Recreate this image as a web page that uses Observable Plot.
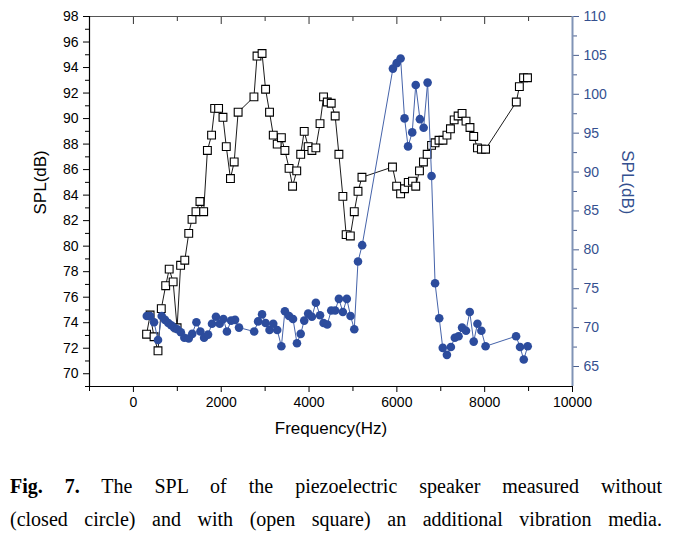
<!DOCTYPE html>
<html><head><meta charset="utf-8">
<script src="https://cdn.jsdelivr.net/npm/d3@7"></script>
<script src="https://cdn.jsdelivr.net/npm/@observablehq/plot@0.6"></script>
<style>
body{margin:0;background:#fff;}
#chart svg{display:block;}
#cap{font-family:"Liberation Serif","Times New Roman",serif;font-size:20px;color:#000;margin:0 16px 0 10px;padding-top:20px;line-height:33px;}
#cap div{text-align:justify;text-align-last:justify;}
</style></head><body>
<div id="chart"></div>
<div id="cap"><div><b>Fig. 7.</b> The SPL of the piezoelectric speaker measured without</div><div>(closed circle) and with (open square) an additional vibration media.</div></div>
<script>
// open squares (with vibration media) — left axis SPL(dB)
const sqFreq = [300,380,470,560,635,735,815,905,995,1075,1170,1260,1335,1425,1515,1600,1685,1780,1850,1940,2040,2115,2210,2295,2385,2745,2815,2930,3010,3100,3185,3275,3370,3450,3545,3625,3720,3810,3890,3980,4065,4155,4250,4330,4415,4505,4595,4680,4770,4845,4940,5030,5115,5205,5900,5995,6085,6175,6260,6355,6430,6515,6605,6690,6790,6870,6960,7050,7140,7220,7305,7395,7485,7575,7665,7750,7835,7925,8020,8720,8790,8885,8975];
const sqSPL = [73.1,74.6,72.9,71.8,75.1,76.9,78.2,77.2,73.6,78.5,78.9,81.0,82.1,82.7,83.5,82.7,87.5,88.7,90.8,90.8,90.1,87.8,85.3,86.6,90.5,91.7,94.9,95.1,92.3,90.5,88.7,88.0,88.5,87.5,86.1,84.7,85.9,87.2,89.0,87.8,87.5,87.7,89.6,91.7,91.3,91.2,90.2,87.2,83.9,80.9,80.8,82.7,84.3,85.4,86.2,84.7,84.1,84.5,85.0,85.1,84.7,85.9,86.6,87.2,87.9,88.1,88.3,88.3,88.7,89.2,89.9,90.2,90.4,89.8,89.3,88.6,87.7,87.6,87.6,91.3,92.5,93.2,93.2];
// closed circles (without media) — right axis SPL(dB)
const ciFreq = [305,380,470,560,645,720,795,860,925,1000,1080,1160,1260,1340,1435,1525,1610,1700,1790,1880,1965,2050,2130,2225,2315,2405,2750,2840,2930,3010,3100,3185,3275,3370,3450,3545,3635,3725,3810,3890,3980,4065,4155,4250,4330,4415,4505,4595,4680,4770,4860,4945,5030,5115,5210,5910,5995,6085,6175,6255,6350,6430,6525,6610,6700,6790,6870,6965,7045,7140,7230,7320,7405,7485,7575,7660,7750,7835,7925,8020,8715,8805,8890,8980];
const ciSPL = [71.5,71.5,70.7,68.4,71.5,71.0,70.6,70.3,70.0,69.8,69.4,68.7,68.6,69.2,70.7,69.5,68.7,69.1,70.5,71.4,70.5,71.1,69.5,70.9,71.0,70.0,69.5,70.8,71.7,70.6,69.7,70.5,69.7,67.6,72.1,71.5,71.1,68.0,69.2,70.9,71.8,71.4,73.2,71.6,70.6,70.4,72.2,72.2,73.7,72.0,73.7,71.5,69.8,78.5,80.6,103.3,104.0,104.6,96.9,93.3,95.1,101.2,96.8,95.7,101.5,89.5,75.7,71.2,67.4,66.5,67.5,68.7,68.9,70.0,69.6,72.0,68.2,70.5,69.6,67.6,68.9,67.5,65.9,67.6];

const xMajor = [0,2000,4000,6000,8000,10000];
const xMinor = [-1000,1000,3000,5000,7000,9000];
const leftTicks = [70,72,74,76,78,80,82,84,86,88,90,92,94,96,98];
const leftMinor = [69,71,73,75,77,79,81,83,85,87,89,91,93,95,97];
const rightTicks = [65,70,75,80,85,90,95,100,105,110];
const rightMinor = [67.5,72.5,77.5,82.5,87.5,92.5,97.5,102.5,107.5];
const xDomain = [-1000,10000];
const leftDomain = [69,98];
const rightDomain = [62.43,110];

const toL = v => leftDomain[0] + (v - rightDomain[0]) * (leftDomain[1]-leftDomain[0]) / (rightDomain[1]-rightDomain[0]);
const toR = v => rightDomain[0] + (v - leftDomain[0]) * (rightDomain[1]-rightDomain[0]) / (leftDomain[1]-leftDomain[0]);

const squares = sqFreq.map((f,i)=>({f, v: sqSPL[i]}));
const circles = ciFreq.map((f,i)=>({f, v: toL(ciSPL[i])}));

const blueDot = "#2c4c9d", blueLine = "#4563aa", blueAxis = "#8093b6", blueText = "#34508f";
const none = () => "";

const chart = Plot.plot({
  width: 678, height: 450,
  marginLeft: 89, marginRight: 106, marginTop: 16, marginBottom: 64,
  style: {fontFamily: "'Liberation Sans', Arial, sans-serif", fontSize: "14px", background: "white", color: "black"},
  x: {domain: xDomain},
  y: {domain: leftDomain},
  marks: [
    // bottom axis
    Plot.axisX(xMajor, {anchor: "bottom", tickSize: 6, tickPadding: 5, fontSize: 14, label: null, tickFormat: d => String(d)}),
    Plot.axisX(xMinor, {anchor: "bottom", tickSize: 5, tickFormat: none, label: null}),
    // top axis inward ticks (shifted down into the frame)
    Plot.axisX(xMajor.slice(0, -1), {anchor: "top", tickSize: 7, dy: 7, tickFormat: none, label: null, stroke: "#333"}),
    Plot.axisX(xMinor.slice(1), {anchor: "top", tickSize: 4, dy: 4, tickFormat: none, label: null, stroke: "#333"}),
    // left axis
    Plot.axisY(leftTicks, {anchor: "left", tickSize: 6, tickPadding: 5, fontSize: 14, label: null}),
    Plot.axisY(leftMinor, {anchor: "left", tickSize: 4, tickFormat: none, label: null}),
    // right axis
    Plot.axisY(rightTicks.map(toL), {anchor: "right", tickSize: 6, tickPadding: 5, fontSize: 14, label: null, stroke: "#4a5f8f", fill: blueText, tickFormat: d => String(Math.round(toR(d)))}),
    Plot.axisY(rightMinor.map(toL), {anchor: "right", tickSize: 4, tickFormat: none, label: null, stroke: "#4a5f8f"}),
    // frame
    Plot.ruleY([leftDomain[1]], {stroke: "#555", strokeWidth: 1.2}),
    Plot.ruleY([leftDomain[0]], {stroke: "black", strokeWidth: 1.2}),
    Plot.ruleX([xDomain[0]], {stroke: "black", strokeWidth: 1.2}),
    Plot.ruleX([xDomain[1]], {stroke: blueAxis, strokeWidth: 2}),
    // axis labels
    Plot.text(["SPL(dB)"], {frameAnchor: "left", dx: -49, dy: 13, rotate: -90, fontSize: 17, fill: "black"}),
    Plot.text(["SPL(dB)"], {frameAnchor: "right", dx: 55, dy: 13, rotate: 90, fontSize: 17, fill: blueText}),
    Plot.text(["Frequency(Hz)"], {frameAnchor: "bottom", dy: 47, fontSize: 17, fill: "black"}),
    // open squares series
    Plot.line(squares, {x: "f", y: "v", stroke: "black", strokeWidth: 0.9}),
    Plot.dot(squares, {x: "f", y: "v", symbol: "square", r: 4.4, fill: "white", stroke: "black", strokeWidth: 1.1}),
    // closed circles series
    Plot.line(circles, {x: "f", y: "v", stroke: blueLine, strokeWidth: 1}),
    Plot.dot(circles, {x: "f", y: "v", r: 4.3, fill: blueDot, stroke: "none"})
  ]
});
document.getElementById("chart").appendChild(chart);
</script>
</body></html>
